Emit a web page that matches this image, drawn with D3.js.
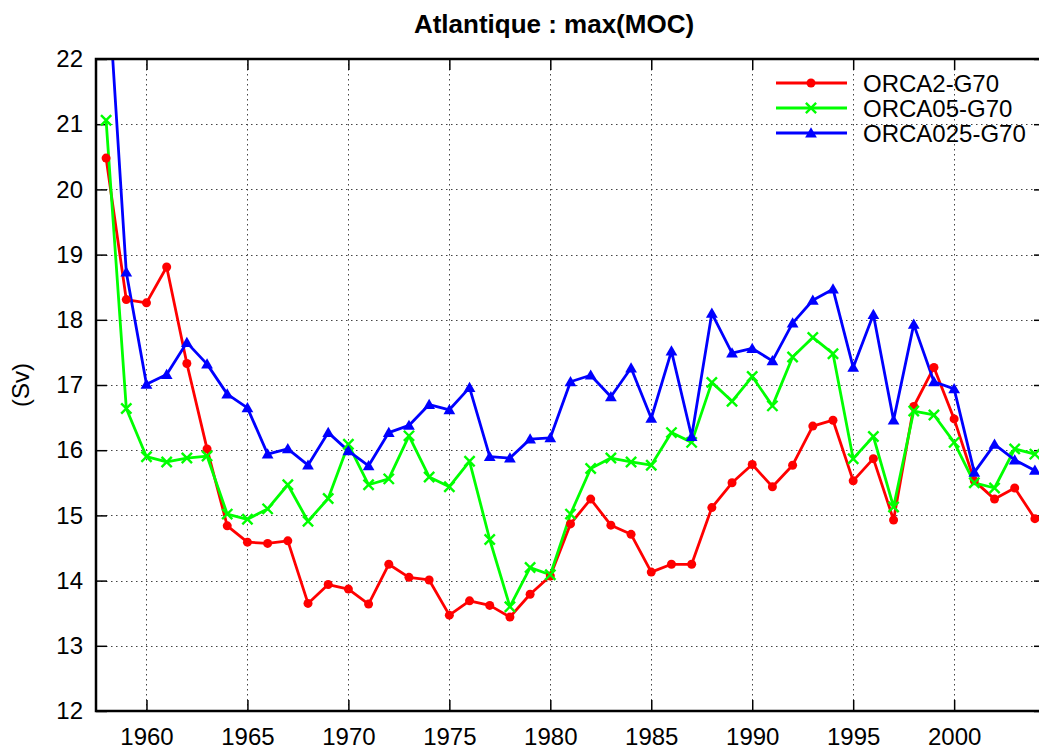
<!DOCTYPE html>
<html><head><meta charset="utf-8">
<script src="https://cdn.jsdelivr.net/npm/d3@7"></script>
<style>body{margin:0;background:#fff}svg{display:block}text{font-family:"Liberation Sans",Arial,sans-serif}</style>
</head><body><svg id="c" width="1039" height="749"></svg>
<script>
const years = d3.range(1958, 2005);
const orca2 = [20.48,18.31,18.26,18.81,17.33,16.02,14.84,14.59,14.57,14.61,13.65,13.94,13.87,13.64,14.25,14.05,14.01,13.47,13.69,13.62,13.44,13.79,14.07,14.87,15.25,14.85,14.71,14.13,14.25,14.25,15.12,15.50,15.78,15.44,15.77,16.37,16.46,15.53,15.87,14.93,16.67,17.27,16.48,15.53,15.25,15.42,14.95];
const orca05 = [21.06,16.64,15.90,15.82,15.88,15.91,15.02,14.94,15.10,15.47,14.91,15.26,16.09,15.47,15.56,16.22,15.59,15.44,15.83,14.63,13.60,14.20,14.09,15.02,15.72,15.88,15.82,15.77,16.27,16.12,17.04,16.75,17.13,16.68,17.43,17.73,17.48,15.87,16.21,15.13,16.60,16.54,16.12,15.50,15.42,16.02,15.94];
const orca025 = [23.6,18.73,17.01,17.16,17.65,17.32,16.86,16.65,15.94,16.02,15.77,16.27,15.99,15.76,16.27,16.38,16.70,16.62,16.96,15.90,15.88,16.17,16.19,17.05,17.15,16.82,17.26,16.49,17.52,16.21,18.10,17.49,17.56,17.37,17.95,18.30,18.47,17.27,18.08,16.46,17.93,17.05,16.94,15.66,16.09,15.85,15.69];
const seriesNames = ["ORCA2-G70","ORCA05-G70","ORCA025-G70"];
const seriesColors = ["#ff0000","#00ff00","#0000ff"];
const xTicks = [1960,1965,1970,1975,1980,1985,1990,1995,2000];
const yTicks = [12,13,14,15,16,17,18,19,20,21,22];
const title = "Atlantique : max(MOC)";
const yLabel = "(Sv)";

const svg = d3.select("#c");
const L = 96, T = 59, R = 1045, B = 711;
const x = d3.scaleLinear().domain([1957.5, 2004.5]).range([L, R]);
const y = d3.scaleLinear().domain([12, 22]).range([B, T]);

svg.append("defs").append("clipPath").attr("id","clip").append("rect")
  .attr("x", L).attr("y", T).attr("width", R-L).attr("height", B-T);

// grid
const grid = svg.append("g").attr("stroke","#444").attr("stroke-width",1).attr("stroke-dasharray","1.5,3.5");
grid.selectAll(".gx").data(xTicks).join("line")
  .attr("x1", d=>Math.round(x(d))+0.5).attr("x2", d=>Math.round(x(d))+0.5).attr("y1", T).attr("y2", B);
grid.selectAll(".gy").data(yTicks.slice(1,-1)).join("line")
  .attr("y1", d=>Math.round(y(d))+0.5).attr("y2", d=>Math.round(y(d))+0.5).attr("x1", L).attr("x2", R);

// axes via d3 axis (inner ticks)
const fs = 24;
const axL = svg.append("g").attr("transform",`translate(${L},0)`)
  .call(d3.axisLeft(y).tickValues(yTicks).tickSize(-11).tickPadding(25).tickFormat(d3.format("d")));
const axR = svg.append("g").attr("transform",`translate(${R},0)`)
  .call(d3.axisRight(y).tickValues(yTicks).tickSize(-11).tickFormat(""));
const axB = svg.append("g").attr("transform",`translate(0,${B})`)
  .call(d3.axisBottom(x).tickValues(xTicks).tickSize(-11).tickPadding(17).tickFormat(d3.format("d")));
const axT = svg.append("g").attr("transform",`translate(0,${T})`)
  .call(d3.axisTop(x).tickValues(xTicks).tickSize(-11).tickFormat(""));
[axL,axR,axB,axT].forEach(a=>{
  a.select(".domain").remove();
  a.selectAll(".tick line").attr("stroke","#000").attr("stroke-width",1.5);
  a.selectAll("text").attr("font-size",fs).attr("fill","#000").attr("font-family","Liberation Sans, Arial, sans-serif");
});
axL.selectAll("text").attr("dx", 12);

// data lines
const all = [orca2, orca05, orca025];
const plot = svg.append("g").attr("clip-path","url(#clip)");
const line = d3.line().x((d,i)=>x(years[i])).y(d=>y(d));
all.forEach((vals, k) => {
  plot.append("path").datum(vals).attr("d", line).attr("fill","none")
    .attr("stroke", seriesColors[k]).attr("stroke-width", 2.8).attr("stroke-linejoin","round");
});
function drawMarker(g, k, cx, cy){
  if (k===0) g.append("circle").attr("cx",cx).attr("cy",cy).attr("r",4.5).attr("fill",seriesColors[k]);
  else if (k===1) g.append("path").attr("d", d3.symbol(d3.symbolX, 70)()).attr("transform",`translate(${cx},${cy})`)
    .attr("fill","none").attr("stroke",seriesColors[k]).attr("stroke-width",2.4);
  else g.append("path").attr("d", d3.symbol(d3.symbolTriangle, 60)()).attr("transform",`translate(${cx},${cy+1})`)
    .attr("fill",seriesColors[k]);
}
all.forEach((vals,k)=>{
  const g = plot.append("g");
  vals.forEach((v,i)=>drawMarker(g,k,x(years[i]),y(v)));
});

// frame
svg.append("rect").attr("x",L).attr("y",T).attr("width",R-L).attr("height",B-T)
  .attr("fill","none").attr("stroke","#000").attr("stroke-width",2.5);

// legend
const legY = [83, 108, 133];
seriesNames.forEach((n,k)=>{
  const g = svg.append("g");
  g.append("line").attr("x1",776).attr("x2",847).attr("y1",legY[k]).attr("y2",legY[k])
    .attr("stroke",seriesColors[k]).attr("stroke-width",2.8);
  drawMarker(g,k,811,legY[k]);
  g.append("text").attr("x",863).attr("y",legY[k]+8.5).attr("font-size",24).text(n);
});

// title and y label
svg.append("text").attr("x",554).attr("y",33).attr("text-anchor","middle")
  .attr("font-size",26).attr("font-weight","bold").text(title);
svg.append("text").attr("transform","translate(29,385) rotate(-90)").attr("text-anchor","middle")
  .attr("font-size",24).text(yLabel);
</script></body></html>
